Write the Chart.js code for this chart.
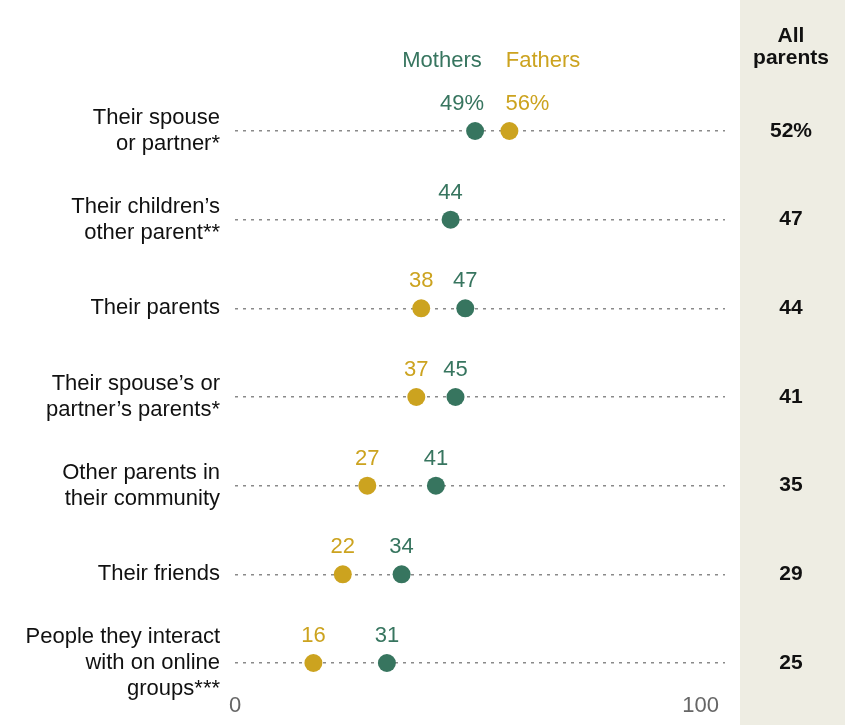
<!DOCTYPE html>
<html>
<head>
<meta charset="utf-8">
<script src="https://cdn.jsdelivr.net/npm/chart.js@4/dist/chart.umd.min.js"></script>
<style>
  html, body { margin: 0; padding: 0; background: #fff; }
  #wrap { width: 845px; height: 725px; }
</style>
</head>
<body>
<div id="wrap"><canvas id="myChart"></canvas></div>
<script>
// data
const categories = [
    ["Their spouse", "or partner*"],
    ["Their children\u2019s", "other parent**"],
    ["Their parents"],
    ["Their spouse\u2019s or", "partner\u2019s parents*"],
    ["Other parents in", "their community"],
    ["Their friends"],
    ["People they interact", "with on online", "groups***"]
];
const mothers = [49, 44, 47, 45, 41, 34, 31];
const fathers = [56, null, 38, 37, 27, 22, 16];
const allParents = ["52%", "47", "44", "41", "35", "29", "25"];
const xTickLabels = ["0", "100"];

const green = "#37755f";
const gold = "#cca31f";
const fontFam = "'Liberation Sans', Arial, sans-serif";

// beige column, header, legend text and value labels
const decor = {
    id: 'decor',
    beforeDraw(chart) {
        const ctx = chart.ctx;
        ctx.save();
        ctx.fillStyle = "#eeede3";
        ctx.fillRect(740, 0, 105, chart.height);
        ctx.restore();
    },
    afterDatasetsDraw(chart) {
        const ctx = chart.ctx;
        ctx.save();
        ctx.textAlign = "center";
        ctx.textBaseline = "middle";

        ctx.font = "bold 21px " + fontFam;
        ctx.fillStyle = "#111";
        ctx.fillText("All", 791, 36);
        ctx.fillText("parents", 791, 58);

        ctx.font = "22px " + fontFam;
        ctx.fillStyle = green;
        ctx.fillText("Mothers", 442, 61);
        ctx.fillStyle = gold;
        ctx.fillText("Fathers", 543, 61);

        chart.data.datasets.forEach((ds, di) => {
            const meta = chart.getDatasetMeta(di);
            meta.data.forEach((pt, i) => {
                const v = ds.data[i];
                if (v === null || v === undefined) return;
                ctx.fillStyle = ds.backgroundColor;
                if (i === 0) {
                    // first row carries "%", pushed apart so they don't collide
                    if (di === 0) {
                        ctx.textAlign = "right";
                        ctx.fillText(v + "%", pt.x + 9, pt.y - 27);
                    } else {
                        ctx.textAlign = "left";
                        ctx.fillText(v + "%", pt.x - 4, pt.y - 27);
                    }
                    ctx.textAlign = "center";
                } else {
                    ctx.fillText(String(v), pt.x, pt.y - 27);
                }
            });
        });
        ctx.restore();
    }
};

new Chart("myChart", {
    type: "line",
    data: {
        labels: categories,
        datasets: [{
            label: "Mothers",
            data: mothers,
            backgroundColor: green,
            borderColor: green,
            showLine: false,
            pointRadius: 9,
            pointHoverRadius: 9,
            pointBorderWidth: 0,
            clip: false
        }, {
            label: "Fathers",
            data: fathers,
            backgroundColor: gold,
            borderColor: gold,
            showLine: false,
            pointRadius: 9,
            pointHoverRadius: 9,
            pointBorderWidth: 0,
            clip: false
        }]
    },
    plugins: [decor],
    options: {
        indexAxis: 'y',
        responsive: true,
        maintainAspectRatio: false,
        animation: false,
        layout: {
            padding: { top: 131, left: 0, right: 0, bottom: 7 }
        },
        plugins: {
            legend: { display: false },
            tooltip: { enabled: false },
            title: { display: false }
        },
        scales: {
            x: {
                type: 'linear',
                min: 0,
                max: 100,
                afterFit: (scale) => { scale.height = 55; },
                grid: { display: false, drawTicks: false },
                border: { display: false },
                afterBuildTicks: (scale) => {
                    scale.ticks = [{ value: 0 }, { value: 100 }];
                },
                ticks: {
                    align: 'inner',
                    labelOffset: -6,
                    padding: 30,
                    color: "#666",
                    font: { family: fontFam, size: 22 },
                    callback: (v, i) => xTickLabels[i]
                }
            },
            y: {
                type: 'category',
                position: 'left',
                offset: false,
                afterFit: (scale) => { scale.width = 235; },
                grid: {
                    drawTicks: false,
                    color: "#8a8a8a",
                    lineWidth: 1.5
                },
                border: { display: false, dash: [3, 5] },
                ticks: {
                    padding: 15,
                    color: "#111",
                    font: { family: fontFam, size: 22, lineHeight: 1.18 }
                }
            },
            y2: {
                type: 'category',
                position: 'right',
                offset: false,
                afterFit: (scale) => { scale.width = 120; },
                grid: { display: false, drawTicks: false },
                border: { display: false },
                ticks: {
                    crossAlign: 'center',
                    padding: 45,
                    color: "#111",
                    font: { family: fontFam, size: 21, weight: 'bold' },
                    callback: (v, i) => allParents[i]
                }
            }
        }
    }
});
</script>
</body>
</html>
